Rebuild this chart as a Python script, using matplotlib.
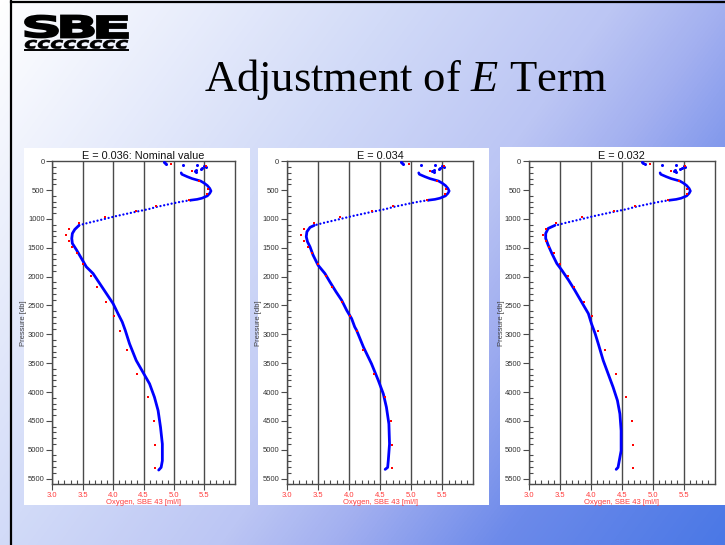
import numpy as np
import matplotlib
matplotlib.use('Agg')
import matplotlib.pyplot as plt
from matplotlib.colors import LinearSegmentedColormap
from matplotlib.patches import Rectangle, PathPatch
from matplotlib.textpath import TextPath
from matplotlib.font_manager import FontProperties
from matplotlib.transforms import Affine2D
from matplotlib.ticker import MultipleLocator

plt.rcParams['font.family'] = ['Liberation Sans', 'DejaVu Sans']
plt.rcParams['mathtext.fontset'] = 'custom'
plt.rcParams['mathtext.rm'] = 'Liberation Serif'
plt.rcParams['mathtext.it'] = 'Liberation Serif:italic'

# 画布尺寸（像素）
W, H = 725, 545

# ---- 数据 ----
PANEL_TITLES = ['E = 0.036: Nominal value', 'E = 0.034', 'E = 0.032']

# 表层散点（三幅图相同）
surf_o2 = [4.83, 4.85, 4.87, 5.15, 5.38, 5.50, 5.53, 5.47, 5.44, 5.36, 5.34, 5.37]
surf_p = [15, 30, 45, 64, 70, 90, 105, 118, 135, 150, 165, 180]

# 上层极大值段
bulge_o2 = [5.12, 5.13, 5.22, 5.30, 5.44, 5.50, 5.55, 5.59, 5.61, 5.59, 5.55, 5.46, 5.38, 5.27]
bulge_p = [200, 225, 267, 300, 342, 380, 420, 470, 515, 555, 600, 640, 660, 675]

# 快速下降段（稀疏扫描点）
drop_o2 = [5.27, 5.12, 4.98, 4.85, 4.72, 4.58, 4.33, 4.05, 3.80, 3.58, 3.44]
drop_p = [675, 700, 730, 760, 790, 830, 885, 950, 1015, 1070, 1110]

# 深层剖面，E = 0.036
deep1_o2 = [3.44, 3.37, 3.33, 3.32, 3.33, 3.40, 3.48, 3.56, 3.67, 3.78, 3.89, 4.00, 4.08,
            4.15, 4.20, 4.27, 4.38, 4.49, 4.60, 4.68, 4.74, 4.78, 4.81, 4.81, 4.79, 4.75]
deep1_p = [1110, 1181, 1251, 1337, 1424, 1540, 1685, 1830, 1945, 2119, 2293, 2467, 2640,
           2785, 2930, 3162, 3452, 3655, 3858, 4089, 4321, 4611, 4901, 5191, 5307, 5353]

# 深层剖面，E = 0.034
deep2_o2 = [3.44, 3.37, 3.32, 3.31, 3.33, 3.37, 3.42, 3.50, 3.61, 3.69, 3.79, 3.88, 3.96,
            4.04, 4.09, 4.12, 4.23, 4.36, 4.47, 4.55, 4.60, 4.64, 4.65, 4.63, 4.62, 4.58]
deep2_p = [1110, 1146, 1222, 1308, 1395, 1482, 1627, 1801, 1945, 2090, 2264, 2409, 2582,
           2727, 2872, 2930, 3220, 3510, 3800, 4031, 4263, 4553, 4901, 5191, 5307, 5341]

# 深层剖面，E = 0.032
deep3_o2 = [3.42, 3.31, 3.27, 3.27, 3.31, 3.37, 3.45, 3.53, 3.64, 3.74, 3.85, 3.96, 4.01,
            4.07, 4.12, 4.20, 4.28, 4.36, 4.43, 4.47, 4.49, 4.49, 4.46, 4.44, 4.41]
deep3_p = [1110, 1164, 1251, 1337, 1453, 1598, 1772, 1887, 2061, 2235, 2438, 2640, 2814,
           2988, 3162, 3452, 3684, 3916, 4147, 4379, 4669, 5017, 5191, 5307, 5341]

# 采水瓶滴定值（三幅图相同）
bottle_o2 = [4.96, 5.53, 5.30, 5.42, 5.56, 5.55, 5.25, 4.71, 4.37, 3.86, 3.44, 3.27, 3.22,
             3.28, 3.33, 3.40, 3.50, 3.63, 3.73, 3.89, 4.02, 4.12, 4.23, 4.40, 4.57, 4.67,
             4.69, 4.69]
bottle_p = [47, 81, 162, 347, 486, 573, 672, 776, 868, 973, 1077, 1181, 1280,
            1378, 1482, 1586, 1783, 1992, 2177, 2438, 2681, 2941, 3278, 3689, 4094, 4505,
            4911, 5322]

DEEP = [(deep1_o2, deep1_p), (deep2_o2, deep2_p), (deep3_o2, deep3_p)]

# 各子图位置（像素）：白底框、坐标轴、纵轴标题横坐标
PANEL_BOX = [(24, 148, 250, 505), (258, 148, 489, 505), (500, 147, 725, 505)]
AXES_BOX = [(52.3, 161.3, 234.7, 484.3), (287, 161.3, 473.4, 484.3), (529, 161.3, 714.5, 484.3)]
YLABEL_X = [27, 262, 505]

fig = plt.figure(figsize=(W / 100, H / 100), dpi=100)

# 背景：渐变 + 黑色边线 + 标志 + 标题
bg = fig.add_axes([0, 0, 1, 1])
bg.set_xlim(0, W)
bg.set_ylim(H, 0)
bg.axis('off')
cmap = LinearSegmentedColormap.from_list(
    'slide', [(0, '#ffffff'), (0.35, '#d2dbf8'), (0.55, '#bcc6f4'),
              (0.65, '#a3b0f0'), (0.8, '#6c8aea'), (1.0, '#4a78e6')])
u = np.linspace(0, 1, W)[None, :]
v = np.linspace(0, 1, H)[:, None]
t = (u + 0.55 * v) / 1.55
bg.imshow(t, cmap=cmap, extent=(0, W, H, 0), aspect='auto', vmin=0, vmax=1, zorder=0)
bg.plot([11, 11], [1, H], color='black', lw=1.6, zorder=1)
bg.plot([11, W], [1.5, 1.5], color='black', lw=1.6, zorder=1)


def path_in_box(text, prop, x0, y0, x1, y1, stroke=0.0):
    tp = TextPath((0, 0), text, size=1, prop=prop)
    bb = tp.get_extents()
    tr = (Affine2D().translate(-bb.x0, -bb.y0)
          .scale((x1 - x0) / bb.width, -(y1 - y0) / bb.height)
          .translate(x0, y1))
    return PathPatch(tr.transform_path(tp), facecolor='black', edgecolor='black',
                     lw=stroke, zorder=2)


logo_font = FontProperties(family='DejaVu Sans', weight='bold')
for letter, (lx0, lx1) in zip('SBE', [(25, 58), (61, 94), (97, 128)]):
    bg.add_patch(path_in_box(letter, logo_font, lx0, 15.5, lx1, 37.5, stroke=1.3))
bg.add_patch(path_in_box('cccccccc', FontProperties(family='DejaVu Sans', weight='bold', style='italic'),
                         25, 40, 128, 48.5, stroke=0.5))
bg.plot([25, 128], [49.5, 49.5], color='black', lw=1.4, zorder=2)

bg.text(405, 80, r'Adjustment of $\mathit{E}$ Term', family='Liberation Serif', size=32,
        ha='center', va='center', color='black', zorder=2)

for (bx0, by0, bx1, by1) in PANEL_BOX:
    bg.add_patch(Rectangle((bx0, by0), bx1 - bx0, by1 - by0, facecolor='white',
                           edgecolor='none', zorder=1))

GRAY = '#4a4a4a'
RED = '#ff3b3b'

for i, (x0, y0, x1, y1) in enumerate(AXES_BOX):
    ax = fig.add_axes([x0 / W, 1 - y1 / H, (x1 - x0) / W, (y1 - y0) / H])
    ax.set_facecolor('white')
    deep_o2, deep_p = DEEP[i]

    ax.plot(bulge_o2, bulge_p, color='blue', lw=1.9, solid_capstyle='round', zorder=3)
    ax.plot(drop_o2, drop_p, color='blue', lw=1.7, linestyle=(0, (0.01, 1.6)),
            dash_capstyle='round', zorder=3)
    ax.plot(deep_o2, deep_p, color='blue', lw=2.0, solid_capstyle='round', zorder=3)
    ax.plot(surf_o2, surf_p, 'o', color='blue', ms=2.2, mew=0, zorder=3)
    ax.plot(bottle_o2, bottle_p, 's', color='red', ms=1.9, mew=0, zorder=4)

    ax.set_xlim(3.0, 6.0)
    ax.set_ylim(5600, 0)
    ax.xaxis.set_minor_locator(MultipleLocator(0.1))
    ax.yaxis.set_minor_locator(MultipleLocator(100))
    ax.set_xticks([3.0, 3.5, 4.0, 4.5, 5.0, 5.5])
    ax.set_xticklabels(['3.0', '3.5', '4.0', '4.5', '5.0', '5.5'])
    ax.set_yticks(range(0, 5501, 500))

    ax.grid(axis='x', which='major', color=GRAY, lw=1.0)
    for s in ax.spines.values():
        s.set_color(GRAY)
        s.set_linewidth(1.0)
    ax.tick_params(which='major', direction='out', length=4, width=0.8, color=GRAY,
                   labelsize=5.5, pad=1.5)
    ax.tick_params(which='minor', direction='in', length=3, width=0.8, color=GRAY)
    ax.tick_params(axis='x', labelcolor=RED)
    ax.tick_params(axis='y', labelcolor='#333333')

    ax.set_xlabel('Oxygen, SBE 43 [ml/l]', color=RED, fontsize=5.5, labelpad=0)
    ax.set_ylabel('Pressure [db]', color='#444444', fontsize=5.5)
    ax.yaxis.set_label_coords((YLABEL_X[i] - x0) / (x1 - x0), 0.5)
    ax.set_title(PANEL_TITLES[i], fontsize=7.8, color='#111111', pad=1.2)

fig.savefig('out.png', dpi=100)
